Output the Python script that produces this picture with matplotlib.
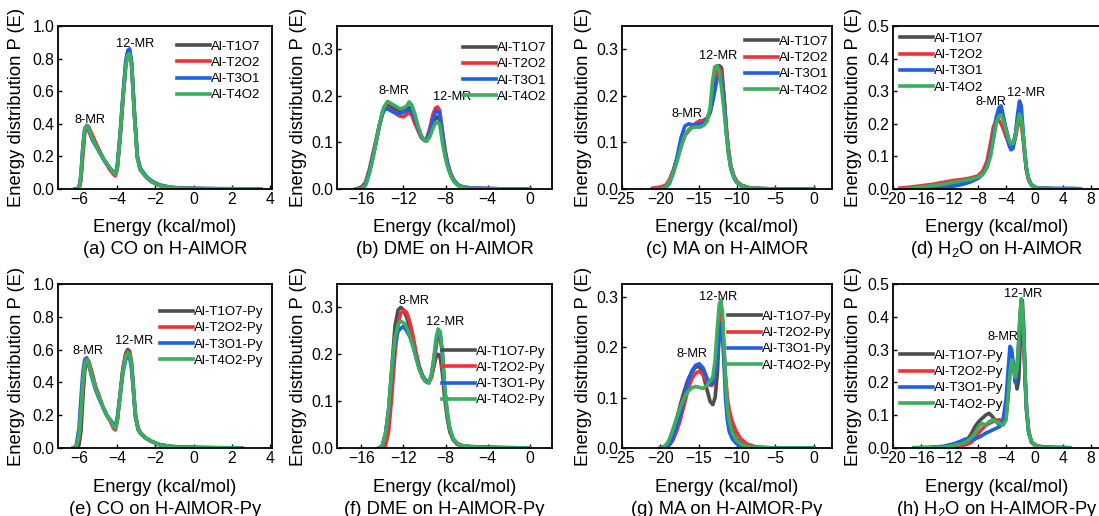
import matplotlib
matplotlib.use('Agg')
import matplotlib.pyplot as plt
import numpy as np

plt.rcParams['font.family'] = ['Liberation Sans', 'DejaVu Sans']
plt.rcParams['mathtext.fontset'] = 'custom'
plt.rcParams['mathtext.rm'] = 'Liberation Sans'
plt.rcParams['mathtext.it'] = 'Liberation Sans:italic'

# ---- energy distributions, bare H-AlMOR ----
energy_co = [-6.2, -6.0, -5.9, -5.8, -5.7, -5.6, -5.5, -5.3, -5.0, -4.7, -4.4, -4.2, -4.1, -4.0,
             -3.85, -3.7, -3.55, -3.45, -3.35, -3.25, -3.1, -2.95, -2.8, -2.5, -2.2, -1.8, -1.2,
             -0.5, 0.5, 1.5, 2.5, 3.5]
co_t1o7 = [0, 0.004, 0.07, 0.24, 0.36, 0.39, 0.38, 0.32, 0.25, 0.18, 0.13, 0.10, 0.09, 0.13, 0.32,
           0.56, 0.77, 0.83, 0.84, 0.77, 0.46, 0.20, 0.12, 0.075, 0.045, 0.022, 0.009, 0.004, 0.002,
           0.001, 0.001, 0]
co_t2o2 = [0, 0.002, 0.05, 0.20, 0.34, 0.38, 0.38, 0.33, 0.25, 0.18, 0.12, 0.09, 0.08, 0.12, 0.31,
           0.55, 0.76, 0.83, 0.84, 0.77, 0.46, 0.20, 0.12, 0.075, 0.045, 0.022, 0.009, 0.004, 0.002,
           0.001, 0.001, 0]
co_t3o1 = [0, 0.006, 0.09, 0.26, 0.37, 0.38, 0.36, 0.30, 0.24, 0.18, 0.13, 0.105, 0.095, 0.14, 0.34,
           0.58, 0.79, 0.85, 0.86, 0.78, 0.47, 0.20, 0.13, 0.08, 0.05, 0.026, 0.011, 0.005, 0.003,
           0.002, 0.001, 0]
co_t4o2 = [0, 0.005, 0.08, 0.25, 0.37, 0.39, 0.37, 0.31, 0.24, 0.18, 0.13, 0.10, 0.09, 0.13, 0.32,
           0.56, 0.76, 0.82, 0.83, 0.76, 0.45, 0.19, 0.12, 0.075, 0.045, 0.022, 0.009, 0.004, 0.002,
           0.001, 0.001, 0]

energy_dme = [-16.5, -16.0, -15.6, -15.2, -14.9, -14.6, -14.3, -14.0, -13.8, -13.5, -13.2, -12.9,
              -12.6, -12.3, -12.0, -11.7, -11.45, -11.2, -10.9, -10.6, -10.3, -10.0, -9.8, -9.5,
              -9.2, -8.95, -8.75, -8.55, -8.3, -8.05, -7.8, -7.5, -7.2, -6.8, -6.3, -5.5, -4.0,
              -2.0, 0.0]
dme_t1o7 = [0, 0.002, 0.01, 0.04, 0.07, 0.10, 0.135, 0.163, 0.175, 0.18, 0.176, 0.172, 0.17, 0.168,
            0.17, 0.172, 0.175, 0.17, 0.155, 0.13, 0.112, 0.104, 0.103, 0.115, 0.138, 0.152, 0.155,
            0.148, 0.11, 0.075, 0.05, 0.03, 0.017, 0.008, 0.004, 0.002, 0.001, 0, 0]
dme_t2o2 = [0, 0.004, 0.014, 0.045, 0.075, 0.105, 0.135, 0.16, 0.172, 0.175, 0.17, 0.165, 0.16,
            0.156, 0.155, 0.16, 0.165, 0.158, 0.14, 0.125, 0.11, 0.105, 0.108, 0.13, 0.16, 0.174,
            0.176, 0.168, 0.125, 0.085, 0.056, 0.033, 0.019, 0.009, 0.004, 0.002, 0.001, 0, 0]
dme_t3o1 = [0, 0.002, 0.01, 0.04, 0.07, 0.10, 0.133, 0.16, 0.17, 0.172, 0.168, 0.165, 0.162, 0.162,
            0.165, 0.168, 0.17, 0.166, 0.15, 0.13, 0.112, 0.105, 0.105, 0.122, 0.15, 0.165, 0.168,
            0.16, 0.12, 0.08, 0.053, 0.031, 0.018, 0.008, 0.004, 0.002, 0.001, 0, 0]
dme_t4o2 = [0, 0, 0.007, 0.035, 0.064, 0.10, 0.135, 0.165, 0.178, 0.188, 0.184, 0.18, 0.176, 0.172,
            0.174, 0.178, 0.187, 0.18, 0.16, 0.135, 0.115, 0.105, 0.103, 0.112, 0.13, 0.142, 0.143,
            0.138, 0.10, 0.07, 0.048, 0.028, 0.016, 0.007, 0.003, 0.001, 0, 0, 0]

energy_ma = [-21.0, -20.0, -19.3, -18.8, -18.3, -17.8, -17.3, -16.8, -16.3, -15.8, -15.3, -14.8,
             -14.3, -13.9, -13.5, -13.2, -12.9, -12.6, -12.3, -12.0, -11.7, -11.4, -11.1, -10.8,
             -10.4, -10.0, -9.4, -8.5, -7.0, -5.0, -2.0, 0.0]
ma_t1o7 = [0, 0.001, 0.005, 0.018, 0.04, 0.065, 0.095, 0.115, 0.125, 0.135, 0.14, 0.145, 0.148,
           0.152, 0.165, 0.19, 0.225, 0.25, 0.265, 0.26, 0.20, 0.13, 0.08, 0.047, 0.026, 0.015,
           0.008, 0.003, 0.001, 0, 0, 0]
ma_t2o2 = [0.002, 0.004, 0.008, 0.02, 0.04, 0.065, 0.092, 0.115, 0.127, 0.135, 0.142, 0.147, 0.145,
           0.15, 0.165, 0.19, 0.225, 0.25, 0.26, 0.245, 0.20, 0.135, 0.085, 0.05, 0.028, 0.016,
           0.008, 0.003, 0.001, 0, 0, 0]
ma_t3o1 = [0, 0, 0.003, 0.012, 0.035, 0.07, 0.11, 0.135, 0.14, 0.138, 0.138, 0.14, 0.142, 0.15,
           0.165, 0.185, 0.21, 0.235, 0.245, 0.235, 0.19, 0.125, 0.075, 0.044, 0.024, 0.013, 0.006,
           0.002, 0.001, 0, 0, 0]
ma_t4o2 = [0, 0, 0.004, 0.015, 0.035, 0.06, 0.09, 0.115, 0.127, 0.132, 0.133, 0.133, 0.137, 0.145,
           0.175, 0.23, 0.262, 0.265, 0.25, 0.215, 0.17, 0.12, 0.075, 0.045, 0.025, 0.014, 0.007,
           0.003, 0.001, 0, 0, 0]

energy_h2o = [-19.0, -17.5, -16.0, -14.5, -13.0, -11.5, -10.0, -9.0, -8.0, -7.3, -6.7, -6.2, -5.8,
              -5.4, -5.0, -4.7, -4.4, -4.0, -3.6, -3.3, -3.0, -2.7, -2.4, -2.1, -1.85, -1.6, -1.35,
              -1.1, -0.8, -0.4, 0.2, 1.0, 2.5, 4.0, 5.5, 6.5]
h2o_t1o7 = [0, 0.002, 0.005, 0.008, 0.012, 0.018, 0.024, 0.03, 0.038, 0.05, 0.07, 0.11, 0.16, 0.21,
            0.238, 0.24, 0.22, 0.185, 0.15, 0.138, 0.14, 0.165, 0.205, 0.235, 0.225, 0.17, 0.11,
            0.06, 0.03, 0.012, 0.004, 0.002, 0.001, 0, 0, 0]
h2o_t2o2 = [0.003, 0.006, 0.01, 0.014, 0.02, 0.026, 0.03, 0.034, 0.04, 0.055, 0.085, 0.14, 0.19,
            0.21, 0.21, 0.20, 0.185, 0.16, 0.14, 0.132, 0.135, 0.155, 0.19, 0.21, 0.20, 0.155, 0.10,
            0.055, 0.027, 0.011, 0.004, 0.002, 0.001, 0, 0, 0]
h2o_t3o1 = [0, 0, 0.001, 0.003, 0.005, 0.008, 0.015, 0.022, 0.032, 0.045, 0.07, 0.11, 0.16, 0.22,
            0.25, 0.255, 0.225, 0.175, 0.135, 0.12, 0.125, 0.16, 0.225, 0.27, 0.255, 0.18, 0.11,
            0.06, 0.03, 0.013, 0.005, 0.003, 0.002, 0.002, 0.002, 0.001]
h2o_t4o2 = [0, 0.002, 0.006, 0.01, 0.014, 0.02, 0.026, 0.03, 0.036, 0.045, 0.065, 0.10, 0.15, 0.20,
            0.225, 0.228, 0.21, 0.18, 0.15, 0.138, 0.14, 0.16, 0.20, 0.23, 0.22, 0.17, 0.11, 0.06,
            0.03, 0.012, 0.004, 0.002, 0.001, 0, 0, 0]

# ---- energy distributions, pyridine-modified H-AlMOR ----
energy_co_py = [-6.3, -6.15, -6.0, -5.9, -5.8, -5.7, -5.6, -5.5, -5.35, -5.15, -4.95, -4.75, -4.55,
                -4.35, -4.2, -4.1, -4.0, -3.85, -3.7, -3.55, -3.45, -3.35, -3.25, -3.15, -3.05,
                -2.9, -2.75, -2.5, -2.2, -1.8, -1.2, -0.5, 0.5, 1.5, 2.5]
co_py_t1o7 = [0, 0, 0.02, 0.10, 0.30, 0.47, 0.53, 0.53, 0.47, 0.38, 0.31, 0.25, 0.20, 0.165, 0.13,
              0.12, 0.17, 0.33, 0.49, 0.58, 0.60, 0.59, 0.52, 0.36, 0.20, 0.11, 0.085, 0.06, 0.04,
              0.02, 0.009, 0.004, 0.002, 0.001, 0]
co_py_t2o2 = [0, 0.005, 0.06, 0.20, 0.38, 0.50, 0.54, 0.53, 0.47, 0.38, 0.32, 0.25, 0.20, 0.16,
              0.12, 0.11, 0.16, 0.32, 0.48, 0.57, 0.59, 0.58, 0.51, 0.36, 0.21, 0.12, 0.09, 0.062,
              0.04, 0.02, 0.009, 0.004, 0.002, 0.001, 0]
co_py_t3o1 = [0, 0.015, 0.12, 0.30, 0.46, 0.54, 0.55, 0.51, 0.44, 0.36, 0.30, 0.25, 0.20, 0.17,
              0.145, 0.14, 0.18, 0.32, 0.46, 0.54, 0.56, 0.55, 0.48, 0.34, 0.19, 0.11, 0.085, 0.06,
              0.04, 0.022, 0.01, 0.005, 0.003, 0.002, 0.001]
co_py_t4o2 = [0, 0.01, 0.08, 0.22, 0.40, 0.51, 0.54, 0.52, 0.45, 0.37, 0.31, 0.25, 0.20, 0.17, 0.13,
              0.12, 0.17, 0.32, 0.47, 0.56, 0.58, 0.57, 0.50, 0.35, 0.20, 0.11, 0.085, 0.06, 0.04,
              0.02, 0.009, 0.004, 0.002, 0.001, 0]

energy_dme_py = [-14.3, -14.0, -13.7, -13.4, -13.1, -12.8, -12.5, -12.25, -12.0, -11.7, -11.4,
                 -11.1, -10.8, -10.5, -10.2, -9.9, -9.6, -9.35, -9.1, -8.9, -8.7, -8.5, -8.3, -8.1,
                 -7.85, -7.6, -7.3, -6.9, -6.4, -5.5, -4.0, -2.0, 0.0]
dme_py_t1o7 = [0, 0.004, 0.03, 0.08, 0.17, 0.26, 0.295, 0.30, 0.295, 0.28, 0.255, 0.225, 0.195,
               0.17, 0.152, 0.142, 0.14, 0.15, 0.175, 0.195, 0.20, 0.192, 0.16, 0.11, 0.065, 0.035,
               0.018, 0.008, 0.004, 0.002, 0.001, 0, 0]
dme_py_t2o2 = [0, 0, 0.005, 0.035, 0.11, 0.20, 0.265, 0.288, 0.294, 0.29, 0.27, 0.24, 0.205, 0.175,
               0.155, 0.143, 0.14, 0.15, 0.18, 0.215, 0.242, 0.24, 0.20, 0.13, 0.075, 0.04, 0.02,
               0.009, 0.004, 0.002, 0.001, 0, 0]
dme_py_t3o1 = [0, 0.005, 0.03, 0.08, 0.16, 0.22, 0.25, 0.255, 0.26, 0.25, 0.238, 0.218, 0.195,
               0.172, 0.155, 0.145, 0.14, 0.155, 0.19, 0.225, 0.245, 0.24, 0.20, 0.13, 0.075, 0.04,
               0.02, 0.01, 0.005, 0.003, 0.002, 0.001, 0]
dme_py_t4o2 = [0, 0.005, 0.03, 0.085, 0.17, 0.235, 0.265, 0.27, 0.268, 0.258, 0.24, 0.218, 0.192,
               0.168, 0.152, 0.142, 0.138, 0.155, 0.195, 0.235, 0.254, 0.248, 0.205, 0.135, 0.078,
               0.042, 0.021, 0.01, 0.005, 0.003, 0.001, 0, 0]

energy_ma_py = [-20.0, -19.4, -18.9, -18.4, -17.9, -17.4, -16.9, -16.4, -15.9, -15.4, -14.9, -14.4,
                -13.9, -13.5, -13.15, -12.85, -12.55, -12.3, -12.1, -11.9, -11.7, -11.5, -11.25,
                -11.0, -10.6, -10.1, -9.5, -8.7, -7.5, -5.0, -2.0, 0.0]
ma_py_t1o7 = [0, 0.003, 0.012, 0.03, 0.055, 0.085, 0.112, 0.135, 0.15, 0.16, 0.162, 0.145, 0.115,
              0.092, 0.086, 0.10, 0.15, 0.235, 0.272, 0.255, 0.19, 0.13, 0.08, 0.055, 0.034, 0.018,
              0.009, 0.004, 0.001, 0, 0, 0]
ma_py_t2o2 = [0, 0, 0.004, 0.014, 0.032, 0.055, 0.085, 0.115, 0.137, 0.148, 0.152, 0.145, 0.132,
              0.124, 0.125, 0.145, 0.19, 0.245, 0.267, 0.25, 0.20, 0.145, 0.10, 0.075, 0.052, 0.033,
              0.018, 0.008, 0.002, 0, 0, 0]
ma_py_t3o1 = [0, 0.001, 0.006, 0.018, 0.04, 0.066, 0.10, 0.132, 0.152, 0.164, 0.167, 0.158, 0.138,
              0.126, 0.128, 0.148, 0.18, 0.225, 0.246, 0.225, 0.17, 0.10, 0.055, 0.032, 0.018,
              0.009, 0.004, 0.002, 0.001, 0, 0, 0]
ma_py_t4o2 = [0, 0.004, 0.014, 0.035, 0.058, 0.08, 0.10, 0.112, 0.119, 0.122, 0.12, 0.118, 0.125,
              0.133, 0.14, 0.175, 0.24, 0.285, 0.293, 0.27, 0.205, 0.135, 0.08, 0.052, 0.03, 0.016,
              0.008, 0.003, 0.001, 0, 0, 0]

energy_h2o_py = [-17.0, -15.0, -13.0, -11.5, -10.5, -9.7, -9.0, -8.4, -7.9, -7.4, -6.9, -6.4, -5.9,
                 -5.4, -4.9, -4.4, -4.0, -3.7, -3.45, -3.2, -2.95, -2.7, -2.45, -2.2, -2.0, -1.85,
                 -1.7, -1.5, -1.3, -1.1, -0.8, -0.4, 0.2, 1.0, 2.5, 4.0, 5.0]
h2o_py_t1o7 = [0, 0, 0.001, 0.004, 0.01, 0.02, 0.04, 0.065, 0.08, 0.09, 0.10, 0.106, 0.095, 0.08,
               0.07, 0.075, 0.10, 0.17, 0.25, 0.275, 0.26, 0.22, 0.18, 0.21, 0.32, 0.42, 0.45, 0.37,
               0.22, 0.12, 0.05, 0.018, 0.007, 0.003, 0.001, 0, 0]
h2o_py_t2o2 = [0, 0, 0.001, 0.003, 0.006, 0.01, 0.016, 0.028, 0.045, 0.058, 0.068, 0.075, 0.08,
               0.085, 0.086, 0.08, 0.10, 0.16, 0.23, 0.255, 0.24, 0.225, 0.23, 0.30, 0.40, 0.44,
               0.42, 0.34, 0.21, 0.12, 0.05, 0.018, 0.008, 0.004, 0.002, 0.002, 0.001]
h2o_py_t3o1 = [0.001, 0.002, 0.005, 0.012, 0.02, 0.028, 0.024, 0.028, 0.032, 0.038, 0.045, 0.05,
               0.055, 0.06, 0.065, 0.09, 0.15, 0.24, 0.31, 0.30, 0.25, 0.20, 0.24, 0.33, 0.41, 0.43,
               0.41, 0.33, 0.20, 0.11, 0.045, 0.018, 0.008, 0.004, 0.002, 0.001, 0]
h2o_py_t4o2 = [0, 0.001, 0.003, 0.007, 0.012, 0.018, 0.03, 0.045, 0.065, 0.075, 0.07, 0.08, 0.086,
               0.08, 0.075, 0.07, 0.085, 0.16, 0.23, 0.27, 0.25, 0.215, 0.24, 0.33, 0.42, 0.455,
               0.43, 0.34, 0.22, 0.12, 0.05, 0.018, 0.007, 0.003, 0.001, 0, 0]

sites = ['Al-T1O7', 'Al-T2O2', 'Al-T3O1', 'Al-T4O2']
colors = ['#4d4d4d', '#ee3338', '#1f5fe6', '#3aad5e']

W, H = 1099, 516
fig = plt.figure(figsize=(W / 100, H / 100), dpi=100)

# box = (left, top, width, height) in pixels
panels = [
    dict(x=energy_co, ys=[co_t1o7, co_t2o2, co_t3o1, co_t4o2], py=False,
         box=(58, 26, 214, 163), xlim=(-7.1, 4.1), xticks=np.arange(-6, 5, 2),
         ylim=(0, 1.0), yticks=np.arange(0, 1.01, 0.2), leg=(0.556, 0.91),
         notes=[('8-MR', -5.44, 0.425), ('12-MR', -3.04, 0.89)],
         ylab_x=17, caption='(a) CO on H-AlMOR'),
    dict(x=energy_dme, ys=[dme_t1o7, dme_t2o2, dme_t3o1, dme_t4o2], py=False,
         box=(337, 26, 215, 163), xlim=(-18.3, 2.1), xticks=np.arange(-16, 1, 4),
         ylim=(0, 0.35), yticks=np.arange(0, 0.31, 0.1), leg=(0.586, 0.902),
         notes=[('8-MR', -12.9, 0.21), ('12-MR', -7.35, 0.198)],
         ylab_x=298, caption='(b) DME on H-AlMOR'),
    dict(x=energy_ma, ys=[ma_t1o7, ma_t2o2, ma_t3o1, ma_t4o2], py=False,
         box=(622, 26, 210, 163), xlim=(-25, 2.4), xticks=np.arange(-25, 1, 5),
         ylim=(0, 0.35), yticks=np.arange(0, 0.31, 0.1), leg=(0.586, 0.94),
         notes=[('8-MR', -16.5, 0.16), ('12-MR', -12.4, 0.285)],
         ylab_x=583, caption='(c) MA on H-AlMOR'),
    dict(x=energy_h2o, ys=[h2o_t1o7, h2o_t2o2, h2o_t3o1, h2o_t4o2], py=False,
         box=(893, 26, 212, 163), xlim=(-20, 10), xticks=np.arange(-20, 9, 4),
         ylim=(0, 0.5), yticks=np.arange(0, 0.51, 0.1), leg=(0.033, 0.958),
         notes=[('8-MR', -6.1, 0.268), ('12-MR', -1.18, 0.294)],
         ylab_x=853, caption='(d) H$_2$O on H-AlMOR'),
    dict(x=energy_co_py, ys=[co_py_t1o7, co_py_t2o2, co_py_t3o1, co_py_t4o2], py=True,
         box=(58, 284, 214, 164), xlim=(-7.1, 4.1), xticks=np.arange(-6, 5, 2),
         ylim=(0, 1.0), yticks=np.arange(0, 1.01, 0.2), leg=(0.477, 0.866),
         notes=[('8-MR', -5.51, 0.59), ('12-MR', -3.13, 0.65)],
         ylab_x=17, caption='(e) CO on H-AlMOR-Py'),
    dict(x=energy_dme_py, ys=[dme_py_t1o7, dme_py_t2o2, dme_py_t3o1, dme_py_t4o2], py=True,
         box=(337, 284, 215, 164), xlim=(-18.3, 2.1), xticks=np.arange(-16, 1, 4),
         ylim=(0, 0.35), yticks=np.arange(0, 0.31, 0.1), leg=(0.488, 0.624),
         notes=[('8-MR', -11.0, 0.314), ('12-MR', -8.0, 0.268)],
         ylab_x=298, caption='(f) DME on H-AlMOR-Py'),
    dict(x=energy_ma_py, ys=[ma_py_t1o7, ma_py_t2o2, ma_py_t3o1, ma_py_t4o2], py=True,
         box=(622, 284, 210, 164), xlim=(-25, 2.4), xticks=np.arange(-25, 1, 5),
         ylim=(0, 0.325), yticks=np.arange(0, 0.31, 0.1), leg=(0.505, 0.837),
         notes=[('8-MR', -15.9, 0.186), ('12-MR', -12.4, 0.30)],
         ylab_x=583, caption='(g) MA on H-AlMOR-Py'),
    dict(x=energy_h2o_py, ys=[h2o_py_t1o7, h2o_py_t2o2, h2o_py_t3o1, h2o_py_t4o2], py=True,
         box=(893, 284, 212, 164), xlim=(-20, 10), xticks=np.arange(-20, 9, 4),
         ylim=(0, 0.5), yticks=np.arange(0, 0.51, 0.1), leg=(0.033, 0.599),
         notes=[('8-MR', -4.5, 0.338), ('12-MR', -1.65, 0.47)],
         ylab_x=853, caption='(h) H$_2$O on H-AlMOR-Py'),
]

for p in panels:
    left, top, width, height = p['box']
    ax = fig.add_axes([left / W, 1 - (top + height) / H, width / W, height / H])

    for y, name, c in zip(p['ys'], sites, colors):
        label = name + '-Py' if p['py'] else name
        ax.plot(p['x'], y, color=c, lw=2.6, label=label, solid_joinstyle='round')

    ax.set_xlim(*p['xlim'])
    ax.set_ylim(*p['ylim'])
    ax.set_xticks(p['xticks'])
    ax.set_yticks(p['yticks'])
    ax.yaxis.set_major_formatter(matplotlib.ticker.FormatStrFormatter('%.1f'))
    ax.tick_params(direction='in', length=3, width=1, labelsize=11.3, pad=2.5)
    for s in ax.spines.values():
        s.set_linewidth(1.3)

    for txt, ex, ey in p['notes']:
        ax.text(ex, ey, txt, fontsize=9.2, ha='center', va='center')

    ax.legend(loc='upper left', bbox_to_anchor=p['leg'], frameon=False, fontsize=9.5,
              handlelength=2.5, handletextpad=0.1, labelspacing=0.3, borderpad=0,
              borderaxespad=0)

    cx = (left + width / 2) / W
    if left + width > W:
        cx = (left + 104) / W
    base = top + height
    fig.text(cx, 1 - (base + 39) / H, 'Energy (kcal/mol)', fontsize=13.2, ha='center', va='center')
    fig.text(cx, 1 - (base + 61) / H, p['caption'], fontsize=13.2, ha='center', va='center')
    fig.text(p['ylab_x'] / W, 1 - (top + height / 2) / H, 'Energy distribution P (E)',
             fontsize=13.2, rotation=90, ha='center', va='center')

fig.savefig('out.png', dpi=100)
